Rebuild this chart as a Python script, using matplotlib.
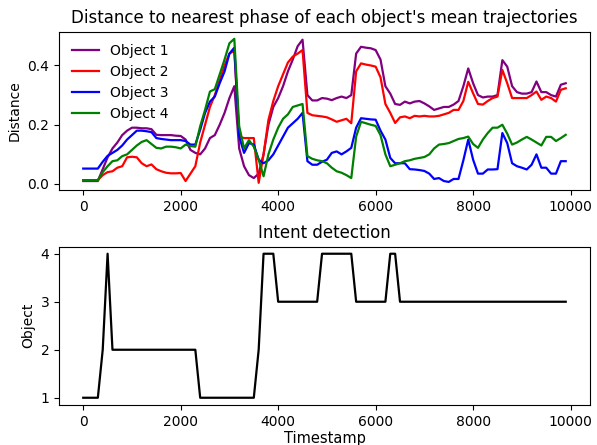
"distance / intent detection chart"
import numpy as np
from matplotlib import pyplot as plt

timestamps = np.arange(0, 10000, 100)

obj1 = [0.01, 0.01, 0.01, 0.01, 0.05, 0.09, 0.12, 0.14, 0.165, 0.18,
        0.19, 0.19, 0.188, 0.188, 0.185, 0.166, 0.165, 0.165, 0.165, 0.163,
        0.162, 0.15, 0.115, 0.105, 0.1, 0.12, 0.155, 0.165, 0.2, 0.24,
        0.29, 0.33, 0.12, 0.06, 0.03, 0.02, 0.035, 0.1, 0.2, 0.26,
        0.29, 0.33, 0.38, 0.42, 0.465, 0.487, 0.3, 0.282, 0.282, 0.29,
        0.288, 0.283, 0.29, 0.295, 0.29, 0.3, 0.44, 0.463, 0.46, 0.458,
        0.452, 0.42, 0.33, 0.305, 0.27, 0.267, 0.278, 0.272, 0.278, 0.28,
        0.272, 0.262, 0.25, 0.255, 0.26, 0.26, 0.268, 0.28, 0.33, 0.39,
        0.34, 0.3, 0.292, 0.295, 0.295, 0.3, 0.418, 0.396, 0.33, 0.31,
        0.305, 0.305, 0.31, 0.346, 0.31, 0.31, 0.3, 0.295, 0.335, 0.34]

obj2 = [0.013, 0.013, 0.013, 0.013, 0.03, 0.04, 0.043, 0.055, 0.06, 0.09,
        0.092, 0.09, 0.07, 0.06, 0.066, 0.05, 0.043, 0.038, 0.036, 0.036,
        0.037, 0.01, 0.035, 0.06, 0.14, 0.2, 0.26, 0.3, 0.35, 0.4,
        0.44, 0.45, 0.16, 0.155, 0.155, 0.155, 0.004, 0.1, 0.216, 0.28,
        0.33, 0.37, 0.41, 0.43, 0.44, 0.452, 0.24, 0.232, 0.23, 0.228,
        0.225, 0.218, 0.21, 0.215, 0.22, 0.205, 0.38, 0.407, 0.403, 0.4,
        0.396, 0.36, 0.27, 0.24, 0.206, 0.225, 0.228, 0.222, 0.23, 0.228,
        0.23, 0.228, 0.228, 0.23, 0.235, 0.24, 0.25, 0.25, 0.28, 0.345,
        0.306, 0.27, 0.268, 0.28, 0.29, 0.295, 0.385, 0.34, 0.29, 0.29,
        0.29, 0.29, 0.3, 0.312, 0.284, 0.295, 0.29, 0.278, 0.318, 0.323]

obj3 = [0.052, 0.052, 0.052, 0.052, 0.075, 0.095, 0.105, 0.115, 0.13, 0.15,
        0.165, 0.18, 0.18, 0.178, 0.175, 0.155, 0.152, 0.15, 0.148, 0.148,
        0.148, 0.145, 0.133, 0.133, 0.183, 0.24, 0.278, 0.295, 0.34, 0.38,
        0.44, 0.46, 0.16, 0.105, 0.138, 0.133, 0.082, 0.07, 0.08, 0.1,
        0.13, 0.16, 0.19, 0.205, 0.22, 0.24, 0.077, 0.065, 0.065, 0.075,
        0.082, 0.105, 0.11, 0.1, 0.11, 0.122, 0.19, 0.222, 0.22, 0.218,
        0.217, 0.18, 0.15, 0.088, 0.07, 0.07, 0.07, 0.05, 0.049, 0.047,
        0.044, 0.035, 0.017, 0.02, 0.01, 0.007, 0.017, 0.017, 0.08, 0.15,
        0.082, 0.035, 0.035, 0.049, 0.049, 0.05, 0.172, 0.138, 0.07, 0.06,
        0.055, 0.049, 0.065, 0.1, 0.055, 0.055, 0.035, 0.035, 0.077, 0.077]

obj4 = [0.013, 0.013, 0.013, 0.013, 0.04, 0.06, 0.077, 0.08, 0.094, 0.1,
        0.115, 0.13, 0.142, 0.148, 0.135, 0.122, 0.12, 0.126, 0.126, 0.124,
        0.12, 0.133, 0.128, 0.126, 0.195, 0.25, 0.312, 0.32, 0.37, 0.42,
        0.475, 0.49, 0.195, 0.12, 0.148, 0.126, 0.082, 0.026, 0.1, 0.15,
        0.19, 0.22, 0.235, 0.26, 0.265, 0.27, 0.094, 0.085, 0.08, 0.077,
        0.07, 0.055, 0.043, 0.038, 0.03, 0.02, 0.16, 0.21, 0.205, 0.2,
        0.196, 0.165, 0.1, 0.06, 0.065, 0.07, 0.077, 0.08, 0.085, 0.088,
        0.091, 0.1, 0.12, 0.133, 0.135, 0.138, 0.145, 0.152, 0.155, 0.16,
        0.135, 0.122, 0.15, 0.172, 0.19, 0.19, 0.2, 0.17, 0.133, 0.14,
        0.15, 0.159, 0.15, 0.14, 0.13, 0.159, 0.159, 0.145, 0.155, 0.166]

# detected object per timestamp
intent = [1, 1, 1, 1, 2, 4, 2, 2, 2, 2,
          2, 2, 2, 2, 2, 2, 2, 2, 2, 2,
          2, 2, 2, 2, 1, 1, 1, 1, 1, 1,
          1, 1, 1, 1, 1, 1, 2, 4, 4, 4,
          3, 3, 3, 3, 3, 3, 3, 3, 3, 4,
          4, 4, 4, 4, 4, 4, 3, 3, 3, 3,
          3, 3, 3, 4, 4, 3, 3, 3, 3, 3,
          3, 3, 3, 3, 3, 3, 3, 3, 3, 3,
          3, 3, 3, 3, 3, 3, 3, 3, 3, 3,
          3, 3, 3, 3, 3, 3, 3, 3, 3, 3]

names = ["Object 1", "Object 2", "Object 3", "Object 4"]
colors = ["purple", "red", "blue", "green"]

fig = plt.figure(figsize=(5.97, 4.45), dpi=100)
ax1 = fig.add_axes([0.099, 0.573, 0.889, 0.356])
ax2 = fig.add_axes([0.099, 0.09, 0.889, 0.356])

for vals, name, col in zip([obj1, obj2, obj3, obj4], names, colors):
    ax1.plot(timestamps, vals, color=col, lw=1.6, label=name)
ax1.set_title("Distance to nearest phase of each object's mean trajectories", fontsize=12)
ax1.set_ylabel("Distance", fontsize=10)
ax1.set_yticks([0.0, 0.2, 0.4])
ax1.tick_params(labelsize=10)
ax1.legend(loc="upper left", frameon=False, fontsize=10)

ax2.plot(timestamps, intent, color="black", lw=1.6)
ax2.set_title("Intent detection", fontsize=12)
ax2.set_ylabel("Object", fontsize=10)
ax2.set_xlabel("Timestamp", fontsize=10.5, labelpad=2)
ax2.set_yticks([1, 2, 3, 4])
ax2.tick_params(labelsize=10)

plt.savefig("out.png")
